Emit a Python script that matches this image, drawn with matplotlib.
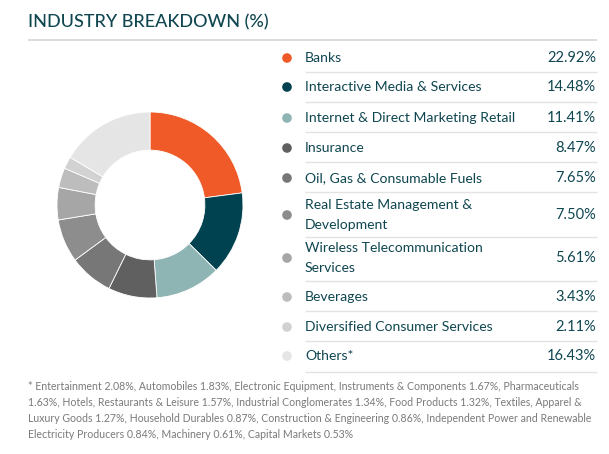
import matplotlib
matplotlib.use("Agg")
import matplotlib.pyplot as plt
from matplotlib.patches import Circle

categories = ["Banks", "Interactive Media & Services", "Internet & Direct Marketing Retail",
              "Insurance", "Oil, Gas & Consumable Fuels", "Real Estate Management &\nDevelopment",
              "Wireless Telecommunication\nServices", "Beverages", "Diversified Consumer Services", "Others*"]
values = [22.92, 14.48, 11.41, 8.47, 7.65, 7.50, 5.61, 3.43, 2.11, 16.43]
colors = ["#F05A28", "#004250", "#8FB4B4", "#606060", "#777777", "#8D8D8D",
          "#A6A6A6", "#BDBDBD", "#D2D2D2", "#E5E5E5"]

other_names = ["Entertainment", "Automobiles", "Electronic Equipment, Instruments & Components",
               "Pharmaceuticals", "Hotels, Restaurants & Leisure", "Industrial Conglomerates",
               "Food Products", "Textiles, Apparel & Luxury Goods", "Household Durables",
               "Construction & Engineering", "Independent Power and Renewable Electricity Producers",
               "Machinery", "Capital Markets"]
other_values = [2.08, 1.83, 1.67, 1.63, 1.57, 1.34, 1.32, 1.27, 0.87, 0.86, 0.84, 0.61, 0.53]

W, H = 609, 454
fig = plt.figure(figsize=(W / 100, H / 100), dpi=100)
fig.patch.set_facecolor("white")

# overlay axes in pixel coords
ov = fig.add_axes([0, 0, 1, 1])
ov.set_xlim(0, W)
ov.set_ylim(H, 0)
ov.axis("off")

TEAL = "#0F4650"
FONT = "Lato"

ov.text(28, 22.5, "INDUSTRY BREAKDOWN (%)", fontsize=13, color=TEAL, family=FONT,
        fontweight="medium", va="center", ha="left")
ov.plot([28, 597], [40, 40], color="#D9D9D9", lw=1.3, solid_capstyle="butt")

# donut
cx, cy, r = 150, 205, 93
pax = fig.add_axes([(cx - r) / W, (H - cy - r) / H, 2 * r / W, 2 * r / H])
pax.pie(values, colors=colors, startangle=90, counterclock=False, radius=1.0,
        wedgeprops=dict(width=0.41, edgecolor="white", linewidth=0.6))
pax.set_xlim(-1, 1)
pax.set_ylim(-1, 1)
pax.set_aspect("auto")
pax.axis("off")

# table
row_centers = [58, 87, 118, 148, 178, 215, 258, 297, 327, 356]
separators = [72, 102, 132, 162, 192, 237, 281, 311, 341, 372]
for i, (cat, val, col) in enumerate(zip(categories, values, colors)):
    y = row_centers[i]
    ov.add_patch(Circle((287, y), 4.8, color=col, lw=0))
    ov.text(305, y, cat, fontsize=10.1, color=TEAL, family=FONT, va="center", ha="left",
            linespacing=1.85)
    ov.text(596, y, f"{val:.2f}%", fontsize=10.5, color=TEAL, family=FONT, va="center",
            ha="right")
for s in separators:
    ov.plot([305, 597], [s, s], color="#E3E3E3", lw=1.0, solid_capstyle="butt")

# footnote
items = [f"{n} {v:.2f}%" for n, v in zip(other_names, other_values)]
foot = "* " + ", ".join(items)
lines = [
    foot[:foot.index("1.63%")].rstrip(),
]
rest = foot[foot.index("1.63%"):]
cut2 = rest.index("Luxury Goods")
lines.append(rest[:cut2].rstrip())
rest = rest[cut2:]
cut3 = rest.index("Electricity Producers")
lines.append(rest[:cut3].rstrip())
lines.append(rest[cut3:])
for k, ln in enumerate(lines):
    ov.text(28, 386 + k * 16.3, ln, fontsize=7.6, color="#7A7A7A", family=FONT,
            va="center", ha="left")

fig.savefig("out.png", dpi=100, facecolor="white")
